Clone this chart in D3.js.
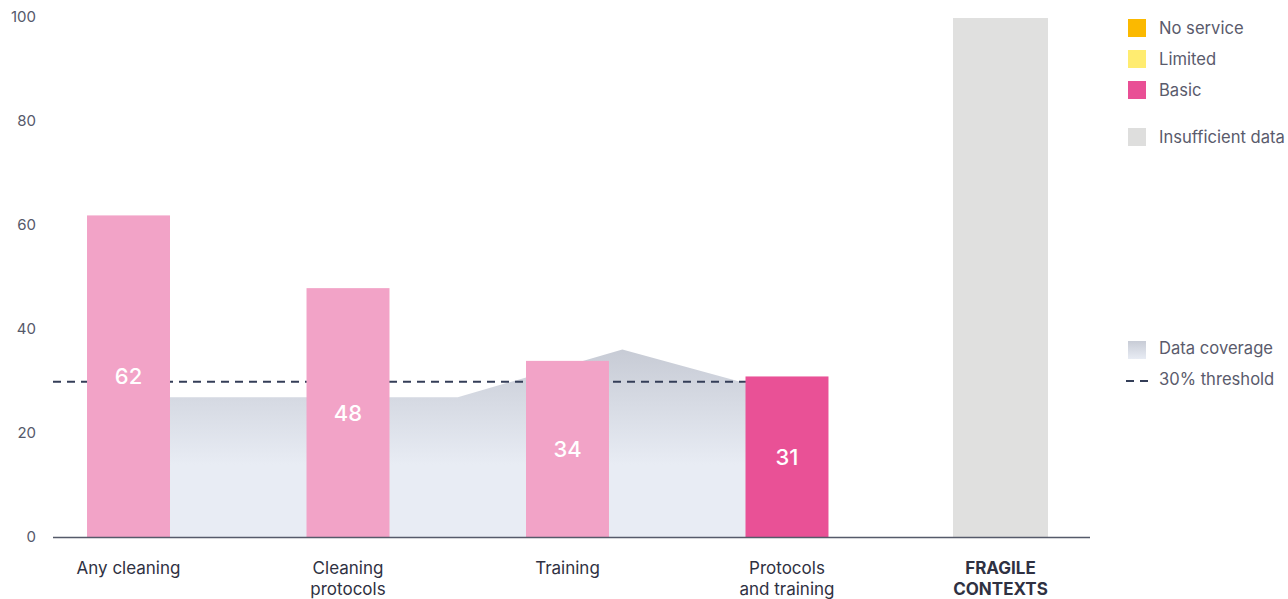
<!DOCTYPE html>
<html>
<head>
<meta charset="utf-8">
<script src="https://cdn.jsdelivr.net/npm/d3@7"></script>
<style>
  html, body { margin: 0; padding: 0; background: #ffffff; }
  svg { display: block; font-family: Inter, "Noto Sans", sans-serif; }
</style>
</head>
<body>
<svg id="chart" width="1288" height="599"></svg>
<script>
// Service categories and their coverage values (%)
const categories = ["Any cleaning", "Cleaning protocols", "Training", "Protocols and training"];
const categoryLines = [["Any cleaning"], ["Cleaning", "protocols"], ["Training"], ["Protocols", "and training"]];
const values = [62, 48, 34, 31];
const levels = ["basicLight", "basicLight", "basicLight", "basic"];

// Fragile contexts group (insufficient data)
const fragileCategory = ["FRAGILE CONTEXTS"];
const fragileLines = [["FRAGILE", "CONTEXTS"]];
const fragileValues = [100];

// Data coverage profile: [category index, coverage %]
const coverage = [[0, 27], [1.5, 27], [2.25, 36.2], [3, 27.5]];
const threshold = 30;

const yTicks = [0, 20, 40, 60, 80, 100];

const legendItems = [
  { label: "No service", color: "#fbb900" },
  { label: "Limited", color: "#ffec70" },
  { label: "Basic", color: "#e94f95" },
  { label: "Insufficient data", color: "#dededd" }
];

const colors = {
  basicLight: "#f2a3c7",
  basic: "#e95196",
  insufficient: "#e0e0df",
  axis: "#555a6a",
  dash: "#343e58",
  tick: "#55596a",
  label: "#2f3142",
  legend: "#5a5b6c"
};

const svg = d3.select("#chart");

const y = d3.scaleLinear().domain([0, 100]).range([537.5, 18]);

const x = d3.scaleBand()
  .domain(categories)
  .range([53, 862.5])
  .paddingInner(0.622)
  .paddingOuter(0.155);

const xFragile = d3.scaleBand()
  .domain(fragileCategory)
  .range([953, 1048])
  .padding(0);

// position along the category axis (index -> band center)
const xIdx = d3.scaleLinear()
  .domain([0, categories.length - 1])
  .range([x(categories[0]) + x.bandwidth() / 2, x(categories[categories.length - 1]) + x.bandwidth() / 2]);

// gradients
const defs = svg.append("defs");
const grad = defs.append("linearGradient")
  .attr("id", "coverageGrad")
  .attr("gradientUnits", "userSpaceOnUse")
  .attr("x1", 0).attr("x2", 0)
  .attr("y1", y(37)).attr("y2", y(14));
grad.append("stop").attr("offset", 0).attr("stop-color", "#c6cad4");
grad.append("stop").attr("offset", 1).attr("stop-color", "#e8ecf4");

const gradLegend = defs.append("linearGradient")
  .attr("id", "coverageLegendGrad")
  .attr("x1", 0).attr("x2", 0).attr("y1", 0).attr("y2", 1);
gradLegend.append("stop").attr("offset", 0).attr("stop-color", "#c8ccd6");
gradLegend.append("stop").attr("offset", 1).attr("stop-color", "#e8ecf4");

// y axis labels
const yAxis = d3.axisLeft(y).tickValues(yTicks).tickSize(0).tickPadding(8);
const gy = svg.append("g").attr("transform", "translate(44,-1)").call(yAxis);
gy.select(".domain").remove();
gy.selectAll("text")
  .attr("fill", colors.tick)
  .style("font-size", "15px")
  .style("font-family", "Inter, sans-serif");

// data coverage area
const area = d3.area()
  .x(d => xIdx(d[0]))
  .y0(y(0))
  .y1(d => y(d[1]));
svg.append("path")
  .datum(coverage)
  .attr("d", area)
  .attr("fill", "url(#coverageGrad)");

// 30% threshold
svg.append("line")
  .attr("x1", 53)
  .attr("x2", xIdx(categories.length - 1))
  .attr("y1", y(threshold))
  .attr("y2", y(threshold))
  .attr("stroke", colors.dash)
  .attr("stroke-width", 2)
  .attr("stroke-dasharray", "8,6");

// bars
svg.append("g").selectAll("rect")
  .data(categories)
  .join("rect")
  .attr("x", d => x(d))
  .attr("width", x.bandwidth())
  .attr("y", (d, i) => y(values[i]))
  .attr("height", (d, i) => y(0) - y(values[i]))
  .attr("fill", (d, i) => colors[levels[i]]);

svg.append("g").selectAll("rect")
  .data(fragileCategory)
  .join("rect")
  .attr("x", d => xFragile(d))
  .attr("width", xFragile.bandwidth())
  .attr("y", (d, i) => y(fragileValues[i]))
  .attr("height", (d, i) => y(0) - y(fragileValues[i]))
  .attr("fill", colors.insufficient);

// value labels
svg.append("g").selectAll("text")
  .data(categories)
  .join("text")
  .attr("x", d => x(d) + x.bandwidth() / 2)
  .attr("y", (d, i) => y(values[i] / 2))
  .attr("text-anchor", "middle")
  .attr("dominant-baseline", "central")
  .attr("fill", "#ffffff")
  .style("font-size", "22px")
  .style("font-weight", 500)
  .text((d, i) => values[i]);

// baseline
svg.append("line")
  .attr("x1", 53).attr("x2", 1090)
  .attr("y1", y(0)).attr("y2", y(0))
  .attr("stroke", colors.axis)
  .attr("stroke-width", 1.5);

// category labels
function drawLabels(scale, names, lines, bold) {
  const g = svg.append("g");
  names.forEach((name, i) => {
    const t = g.append("text")
      .attr("x", scale(name) + scale.bandwidth() / 2)
      .attr("y", 574)
      .attr("text-anchor", "middle")
      .attr("fill", colors.label)
      .style("font-size", "17px")
      .style("font-weight", bold ? 700 : 400);
    lines[i].forEach((ln, j) => {
      t.append("tspan")
        .attr("x", scale(name) + scale.bandwidth() / 2)
        .attr("dy", j === 0 ? 0 : 21)
        .text(ln);
    });
  });
}
drawLabels(x, categories, categoryLines, false);
drawLabels(xFragile, fragileCategory, fragileLines, true);

// legend
const legend = svg.append("g").attr("transform", "translate(1128,0)");
const rowY = [28, 59, 90, 137];
legendItems.forEach((item, i) => {
  legend.append("rect")
    .attr("x", 0).attr("y", rowY[i] - 9)
    .attr("width", 18).attr("height", 18)
    .attr("fill", item.color);
  legend.append("text")
    .attr("x", 31).attr("y", rowY[i])
    .attr("dominant-baseline", "central")
    .attr("fill", colors.legend)
    .style("font-size", "16.6px")
    .text(item.label);
});

legend.append("rect")
  .attr("x", 0).attr("y", 341)
  .attr("width", 18).attr("height", 18)
  .attr("fill", "url(#coverageLegendGrad)");
legend.append("text")
  .attr("x", 31).attr("y", 348)
  .attr("dominant-baseline", "central")
  .attr("fill", colors.legend)
  .style("font-size", "16.6px")
  .text("Data coverage");

legend.append("line")
  .attr("x1", -2).attr("x2", 20)
  .attr("y1", 381).attr("y2", 381)
  .attr("stroke", colors.dash)
  .attr("stroke-width", 2)
  .attr("stroke-dasharray", "8,6");
legend.append("text")
  .attr("x", 31).attr("y", 379)
  .attr("dominant-baseline", "central")
  .attr("fill", colors.legend)
  .style("font-size", "16.6px")
  .text("30% threshold");
</script>
</body>
</html>
